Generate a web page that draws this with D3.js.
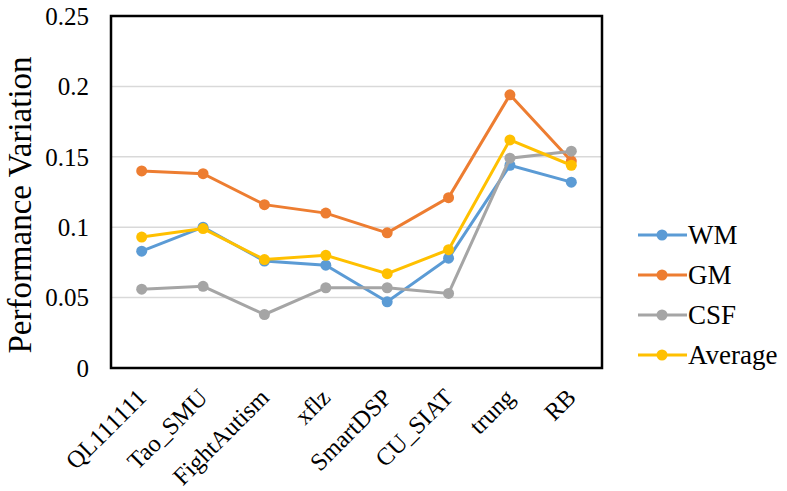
<!DOCTYPE html>
<html>
<head>
<meta charset="utf-8">
<script src="https://cdn.jsdelivr.net/npm/d3@7"></script>
<style>
  body { margin: 0; background: #fff; }
</style>
</head>
<body>
<script>
var width = 787, height = 491;

var teams = ["QL111111", "Tao_SMU", "FightAutism", "xflz", "SmartDSP", "CU_SIAT", "trung", "RB"];
var seriesNames = ["WM", "GM", "CSF", "Average"];
var colors = ["#5B9BD5", "#ED7D31", "#A5A5A5", "#FFC000"];

var wm  = [0.083, 0.100, 0.076, 0.073, 0.047, 0.078, 0.144, 0.132];
var gm  = [0.140, 0.138, 0.116, 0.110, 0.096, 0.121, 0.194, 0.147];
var csf = [0.056, 0.058, 0.038, 0.057, 0.057, 0.053, 0.149, 0.154];
var avg = [0.093, 0.099, 0.077, 0.080, 0.067, 0.084, 0.162, 0.144];

var yTicks = [0, 0.05, 0.1, 0.15, 0.2, 0.25];

var series = [wm, gm, csf, avg];

var plotLeft = 111, plotRight = 602, plotTop = 16, plotBottom = 368;
var serif = "'Liberation Serif'";

var svg = d3.select("body").append("svg")
    .attr("width", width)
    .attr("height", height)
    .style("font-family", serif);

var x = d3.scalePoint().domain(teams).range([plotLeft, plotRight]).padding(0.5);
var y = d3.scaleLinear().domain([0, 0.25]).range([plotBottom, plotTop]);

// gridlines
svg.append("g").selectAll("line")
    .data(yTicks.filter(function (d) { return d > 0 && d < 0.25; }))
    .enter().append("line")
    .attr("x1", plotLeft).attr("x2", plotRight)
    .attr("y1", function (d) { return y(d); })
    .attr("y2", function (d) { return y(d); })
    .attr("stroke", "#D9D9D9")
    .attr("stroke-width", 1.5);

// y tick labels
svg.append("g").selectAll("text")
    .data(yTicks)
    .enter().append("text")
    .attr("x", 89)
    .attr("y", function (d) { return y(d); })
    .attr("dy", "0.35em")
    .attr("text-anchor", "end")
    .style("font-family", serif)
    .style("font-size", "25px")
    .text(function (d) { return d === 0 ? "0" : String(d); });

// x labels, rotated
svg.append("g").selectAll("text")
    .data(teams)
    .enter().append("text")
    .attr("text-anchor", "end")
    .style("font-family", serif)
    .attr("transform", function (d) { return "translate(" + (x(d) + 6) + ",399) rotate(-45)"; })
    .style("font-size", "24.5px")
    .text(function (d) { return d; });

// y title
svg.append("text")
    .attr("transform", "translate(31,205) rotate(-90)")
    .attr("text-anchor", "middle")
    .style("font-family", serif)
    .style("font-size", "33px")
    .text("Performance Variation");

// lines
var line = d3.line()
    .x(function (d, i) { return x(teams[i]); })
    .y(function (d) { return y(d); });

series.forEach(function (s, k) {
    var g = svg.append("g");
    g.append("path")
        .attr("d", line(s))
        .attr("fill", "none")
        .attr("stroke", colors[k])
        .attr("stroke-width", 3);
    g.selectAll("circle")
        .data(s)
        .enter().append("circle")
        .attr("cx", function (d, i) { return x(teams[i]); })
        .attr("cy", function (d) { return y(d); })
        .attr("r", 5.5)
        .attr("fill", colors[k]);
});

// frame
svg.append("rect")
    .attr("x", plotLeft).attr("y", plotTop)
    .attr("width", plotRight - plotLeft).attr("height", plotBottom - plotTop)
    .attr("fill", "none")
    .attr("stroke", "#000")
    .attr("stroke-width", 2.5);

// legend
var legend = svg.append("g").selectAll("g")
    .data(seriesNames)
    .enter().append("g")
    .attr("transform", function (d, i) { return "translate(638," + (235 + i * 40) + ")"; });

legend.append("line")
    .attr("x1", 0).attr("x2", 49)
    .attr("stroke", function (d, i) { return colors[i]; })
    .attr("stroke-width", 3);
legend.append("circle")
    .attr("cx", 24).attr("r", 5.5)
    .attr("fill", function (d, i) { return colors[i]; });
legend.append("text")
    .attr("x", 50)
    .attr("dy", "0.35em")
    .style("font-family", serif)
    .style("font-size", "27px")
    .text(function (d) { return d; });
</script>
</body>
</html>
